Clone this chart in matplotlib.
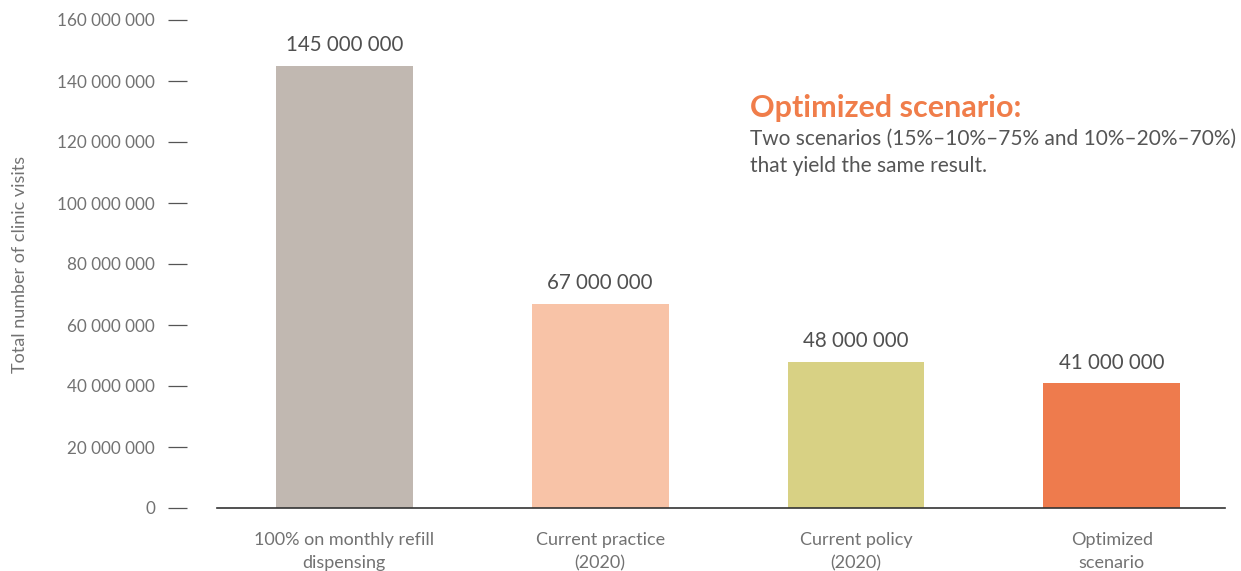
import numpy as np
import matplotlib.pyplot as plt

# data
categories = ["100% on monthly refill\ndispensing", "Current practice\n(2020)",
              "Current policy\n(2020)", "Optimized\nscenario"]
visits = [145_000_000, 67_000_000, 48_000_000, 41_000_000]
bar_colors = ["#C1B8B1", "#F8C3A7", "#D8D184", "#EE7B4D"]
y_ticks = [0, 20_000_000, 40_000_000, 60_000_000, 80_000_000,
           100_000_000, 120_000_000, 140_000_000, 160_000_000]

plt.rcParams['font.family'] = ['Lato', 'DejaVu Sans']

fig = plt.figure(figsize=(12.41, 5.71), dpi=100)
ax = fig.add_axes([217/1241, 63/571, 1008/1241, 488/571])

# spine position first: moving it resets the tick objects
ax.spines["left"].set_position(("outward", 21.6))
for s in ["left", "top", "right"]:
    ax.spines[s].set_visible(False)
ax.spines["bottom"].set_color("#333333")
ax.spines["bottom"].set_linewidth(1.2)

x = np.arange(len(categories))
ax.bar(x, visits, width=0.535, color=bar_colors, zorder=2)

for xi, v in zip(x, visits):
    ax.annotate(f"{v:,}".replace(",", " "), (xi, v), xytext=(0, 7.5),
                textcoords="offset points", ha="center", va="bottom",
                fontsize=14.8, color="#505050")

ax.set_xlim(-0.498, 3.443)
ax.set_ylim(0, 160_000_000)
ax.set_yticks(y_ticks)
ax.set_yticklabels([f"{t:,}".replace(",", " ") for t in y_ticks], fontsize=12.3)
ax.set_xticks(x)
ax.set_xticklabels(categories, fontsize=13, linespacing=1.55)

# ticks: short dashes, detached from the plot area
ax.tick_params(axis="y", direction="out", length=13.7, width=0.9,
               color="#555555", pad=9.4, labelcolor="#727272")
ax.tick_params(axis="x", length=0, pad=17.5, labelcolor="#727272")

ax.set_ylabel("Total number of clinic visits", fontsize=13, color="#727272")
ax.yaxis.set_label_coords(-189/1008, 0.5)

fig.text(750/1241, 1 - 117/571, "Optimized scenario:", fontsize=22,
         fontweight="bold", color="#F07D4A", ha="left", va="baseline")
fig.text(750/1241, 1 - 129/571,
         "Two scenarios (15%\u201310%\u201375% and 10%\u201320%\u201370%)\nthat yield the same result.",
         fontsize=15, color="#555555", ha="left", va="top", linespacing=1.42)

fig.savefig("out.png", dpi=100)
